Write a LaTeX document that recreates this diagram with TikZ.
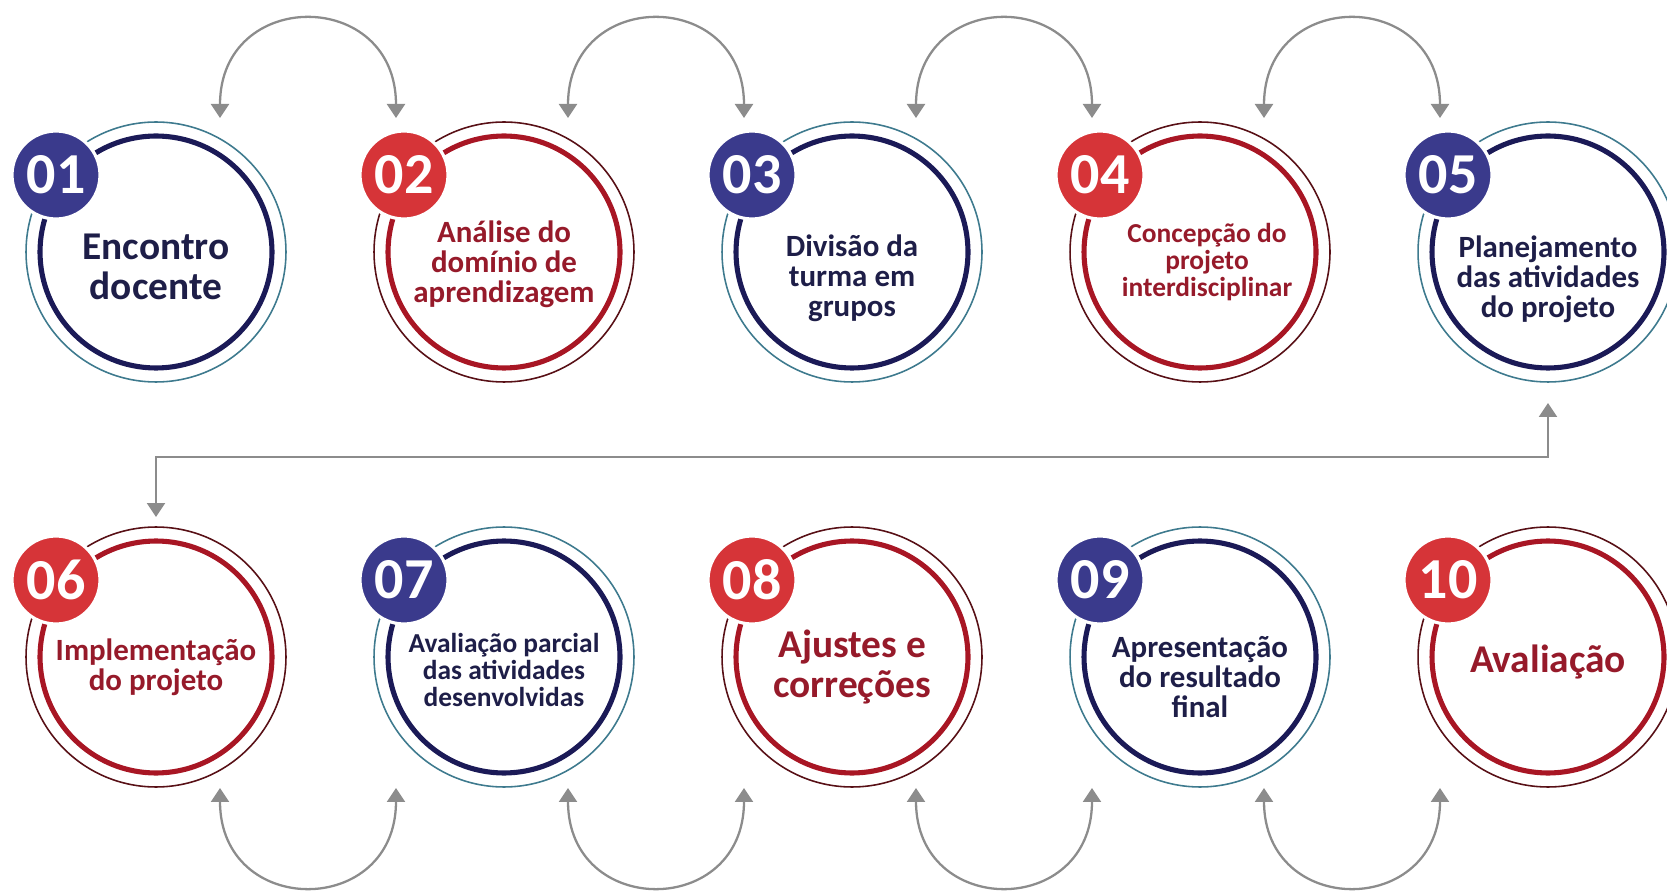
\documentclass[tikz,border=0pt]{standalone}
\usepackage{fontspec}
\setmainfont{Carlito}
\usetikzlibrary{arrows.meta,calc}
\definecolor{navy}{RGB}{27,26,87}
\definecolor{tealthin}{RGB}{62,122,142}
\definecolor{wine}{RGB}{168,22,36}
\definecolor{winethin}{RGB}{88,16,22}
\definecolor{badgeblue}{RGB}{58,58,140}
\definecolor{badgered}{RGB}{214,52,56}
\definecolor{navytext}{RGB}{30,30,72}
\definecolor{redtext}{RGB}{150,26,42}
\definecolor{arrowgray}{RGB}{140,140,140}
\begin{document}
\begin{tikzpicture}[x=0.02cm, y=0.02cm, >={Triangle[width=0.36cm,length=0.28cm]},
outer ring/.style={circle,draw=#1,line width=0.9pt,minimum size=5.2cm,inner sep=0pt},
main ring/.style={circle,draw=#1,line width=2.9pt,minimum size=4.64cm,inner sep=0pt},
badge/.style={circle,fill=#1,draw=white,line width=1.8pt,minimum size=1.76cm,inner sep=0pt,text=white,font=\fontsize{33}{33}\selectfont\bfseries},
step text/.style={align=center,text=#1},
large txt/.style={font=\fontsize{22.4}{22.5}\selectfont\bfseries},
mid txt/.style={font=\fontsize{17.6}{17}\selectfont\bfseries},
small txt/.style={font=\fontsize{15.6}{15.5}\selectfont\bfseries},
link/.style={<->,draw=arrowgray,line width=1.3pt}]
\useasboundingbox (0,0) rectangle (1667,890);
\begin{scope}
\node[outer ring=tealthin] (o1) at (156,638) {};
\node[main ring=navy] (v1) at (156,638) {};
\node[badge=badgeblue] (b1) at (56,715) {01};
\node[step text=navytext,large txt] (t1) at (156,623) {Encontro\\docente};
\node[outer ring=winethin] (o2) at (504,638) {};
\node[main ring=wine] (v2) at (504,638) {};
\node[badge=badgered] (b2) at (404,715) {02};
\node[step text=redtext,mid txt] (t2) at (504,626) {Análise do\\domínio de\\aprendizagem};
\node[outer ring=tealthin] (o3) at (852,638) {};
\node[main ring=navy] (v3) at (852,638) {};
\node[badge=badgeblue] (b3) at (752,715) {03};
\node[step text=navytext,mid txt] (t3) at (852,612) {Divisão da\\turma em\\grupos};
\node[outer ring=winethin] (o4) at (1200,638) {};
\node[main ring=wine] (v4) at (1200,638) {};
\node[badge=badgered] (b4) at (1100,715) {04};
\node[step text=redtext,small txt] (t4) at (1207,628) {Concepção do\\projeto\\interdisciplinar};
\node[outer ring=tealthin] (o5) at (1548,638) {};
\node[main ring=navy] (v5) at (1548,638) {};
\node[badge=badgeblue] (b5) at (1448,715) {05};
\node[step text=navytext,mid txt] (t5) at (1548,611) {Planejamento\\das atividades\\do projeto};
%second row
\node[outer ring=winethin] (o6) at (156,233) {};
\node[main ring=wine] (v6) at (156,233) {};
\node[badge=badgered] (b6) at (56,310) {06};
\node[step text=redtext,mid txt] (t6) at (156,223) {Implementação\\do projeto};
\node[outer ring=tealthin] (o7) at (504,233) {};
\node[main ring=navy] (v7) at (504,233) {};
\node[badge=badgeblue] (b7) at (404,310) {07};
\node[step text=navytext,small txt] (t7) at (504,220) {Avaliação parcial\\das atividades\\desenvolvidas};
\node[outer ring=winethin] (o8) at (852,233) {};
\node[main ring=wine] (v8) at (852,233) {};
\node[badge=badgered] (b8) at (752,310) {08};
\node[step text=redtext,large txt] (t8) at (852,223) {Ajustes e\\correções};
\node[outer ring=tealthin] (o9) at (1200,233) {};
\node[main ring=navy] (v9) at (1200,233) {};
\node[badge=badgeblue] (b9) at (1100,310) {09};
\node[step text=navytext,mid txt] (t9) at (1200,213) {Apresentação\\do resultado\\final};
\node[outer ring=winethin] (o10) at (1548,233) {};
\node[main ring=wine] (v10) at (1548,233) {};
\node[badge=badgered] (b10) at (1448,310) {10};
\node[step text=redtext,large txt] (t10) at (1548,228) {Avaliação};
\end{scope}
\begin{scope}
\draw[link] ($(v1)+(64,134)$) to[out=90,in=90,looseness=1.9] ($(v2)+(-108,134)$);
\draw[link] ($(v2)+(64,134)$) to[out=90,in=90,looseness=1.9] ($(v3)+(-108,134)$);
\draw[link] ($(v3)+(64,134)$) to[out=90,in=90,looseness=1.9] ($(v4)+(-108,134)$);
\draw[link] ($(v4)+(64,134)$) to[out=90,in=90,looseness=1.9] ($(v5)+(-108,134)$);
\draw[link] ($(v5)+(0,-151)$) |- ($(v6)+(0,200)$) -- ($(v6)+(0,140)$);
\draw[link] ($(v6)+(64,-131)$) to[out=-90,in=-90,looseness=1.9] ($(v7)+(-108,-131)$);
\draw[link] ($(v7)+(64,-131)$) to[out=-90,in=-90,looseness=1.9] ($(v8)+(-108,-131)$);
\draw[link] ($(v8)+(64,-131)$) to[out=-90,in=-90,looseness=1.9] ($(v9)+(-108,-131)$);
\draw[link] ($(v9)+(64,-131)$) to[out=-90,in=-90,looseness=1.9] ($(v10)+(-108,-131)$);
\end{scope}
\end{tikzpicture}
\end{document}
